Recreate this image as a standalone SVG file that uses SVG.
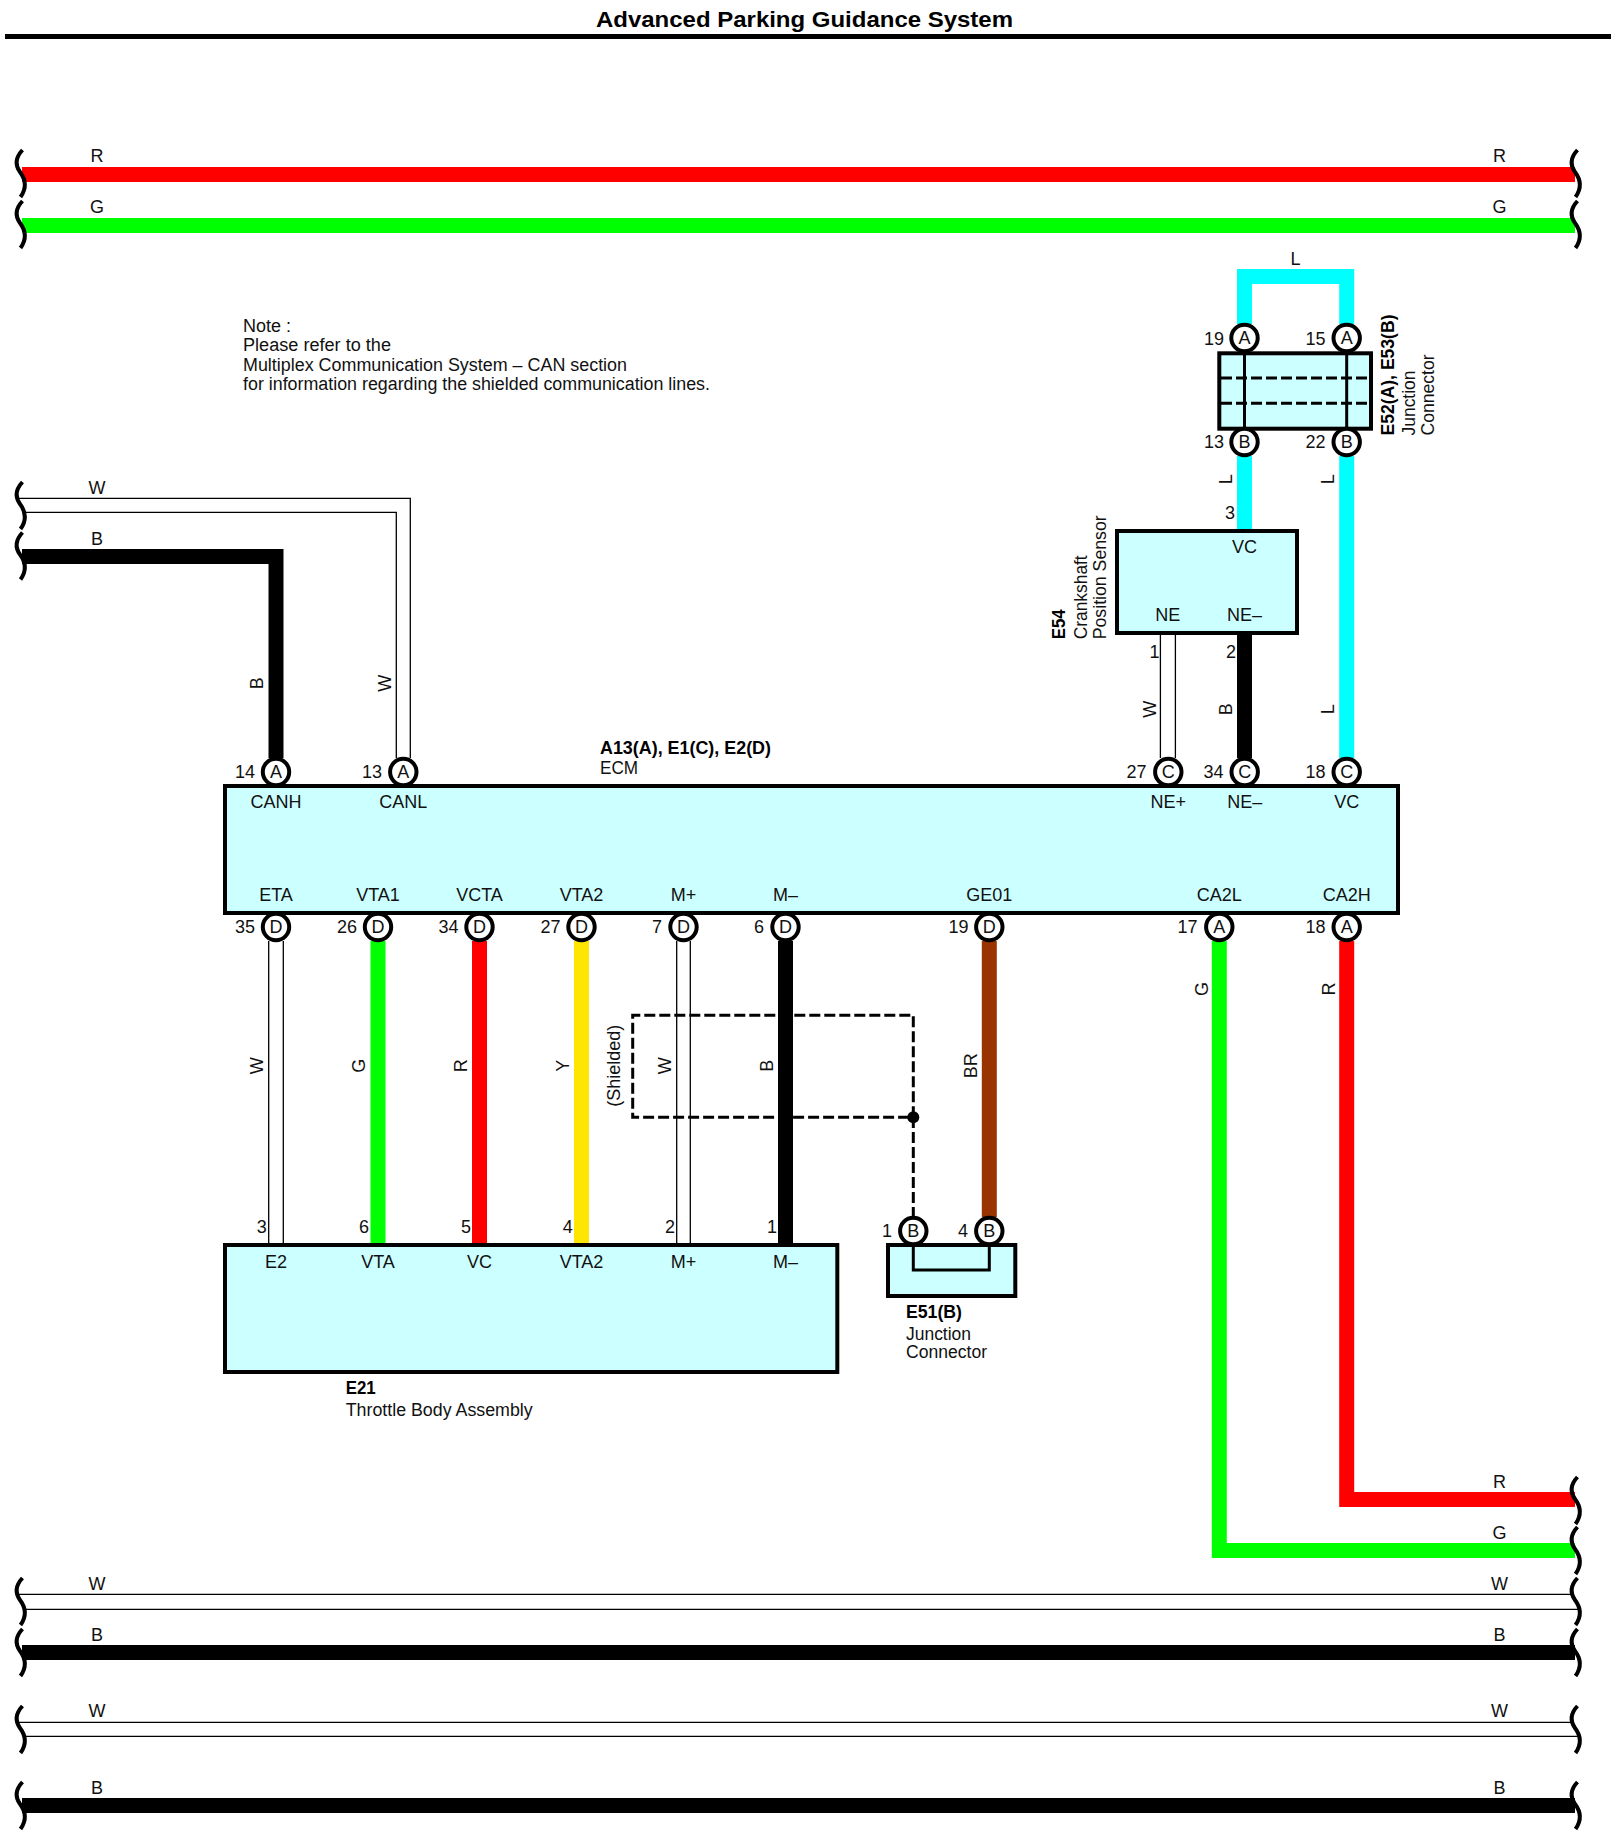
<svg xmlns="http://www.w3.org/2000/svg" width="1611" height="1848" viewBox="0 0 1611 1848">
<style>
text{font-family:"Liberation Sans",Arial,sans-serif;font-size:18px;fill:#111}
.m{text-anchor:middle}
.e{text-anchor:end;font-size:18px}
.b{font-weight:bold;fill:#000}
.box{fill:#ccffff;stroke:#000;stroke-width:4;stroke-linejoin:miter}
.in{fill:none;stroke:#000;stroke-width:3}
.pin{fill:#fff;stroke:#000;stroke-width:4}
.w{fill:none;stroke-width:15;stroke-linejoin:miter}
.ww{fill:none;stroke:#000;stroke-width:1.3}
.dash{fill:none;stroke:#000;stroke-width:3;stroke-dasharray:11 4}
.sq{fill:none;stroke:#000;stroke-width:4}
</style>
<defs>
<path id="sq" class="sq" d="M22.5 0C15 8 15 15 20 22C26 30 27 38 20.5 47"/>
</defs>
<g id="header">
<rect x="5" y="34" width="1606" height="5" fill="#000"/>
<text class="b" x="596" y="27" style="font-size:22px" textLength="417" lengthAdjust="spacingAndGlyphs">Advanced Parking Guidance System</text>
</g>
<g id="note">
<text x="243" y="332" textLength="48" lengthAdjust="spacingAndGlyphs">Note :</text>
<text x="243" y="351" textLength="148" lengthAdjust="spacingAndGlyphs">Please refer to the</text>
<text x="243" y="371" textLength="384" lengthAdjust="spacingAndGlyphs">Multiplex Communication System – CAN section</text>
<text x="243" y="390" textLength="467" lengthAdjust="spacingAndGlyphs">for information regarding the shielded communication lines.</text>
</g>
<g id="connectors">
<path class="w" stroke="#ff0000" d="M22 174.500H1575"/>
<path class="w" stroke="#00ff00" d="M22 225.500H1575"/>
<path class="ww" d="M18 498.300H410.300V758M26 512.300H396.300V758"/>
<path class="w" stroke="#000" d="M22 556.500H276V758"/>
<path class="w" stroke="#00ffff" d="M1244.500 324V276.500H1346.700V324"/>
<path class="w" stroke="#00ffff" d="M1244.500 456V532"/>
<path class="w" stroke="#00ffff" d="M1346.700 456V758"/>
<path class="w" stroke="#000" d="M1244.500 633V758"/>
<path class="ww" d="M1160.400 633V758M1175.400 633V758"/>
<path class="ww" d="M268.700 941V1245M283.300 941V1245"/>
<path class="w" stroke="#00ff00" d="M378 941V1245"/>
<path class="w" stroke="#ff0000" d="M479.500 941V1245"/>
<path class="w" stroke="#ffe600" d="M581.500 941V1245"/>
<path class="ww" d="M676.700 941V1245M690.300 941V1245"/>
<path class="dash" d="M913.300 1117.300V1015.300H632.700V1117.300H913.300V1217"/>
<circle cx="913.300" cy="1117.300" r="6"/>
<path class="w" stroke="#000" d="M785.500 941V1245"/>
<path class="w" stroke="#993300" d="M989.300 941V1217"/>
<path class="w" stroke="#00ff00" d="M1219.300 941V1550.500H1575"/>
<path class="w" stroke="#ff0000" d="M1346.700 941V1499.500H1575"/>
<path class="ww" d="M17 1594.300H1571M25 1609.300H1579"/>
<path class="w" stroke="#000" d="M22 1652.500H1575"/>
<path class="ww" d="M17 1722.300H1571M25 1736.300H1579"/>
<path class="w" stroke="#000" d="M22 1805.500H1575"/>
<use href="#sq" x="0" y="150"/><use href="#sq" x="0" y="201"/>
<use href="#sq" x="1555" y="150"/><use href="#sq" x="1555" y="201"/>
<use href="#sq" x="0" y="482"/><use href="#sq" x="0" y="532.500"/>
<use href="#sq" x="1555" y="1477"/><use href="#sq" x="1555" y="1527"/>
<use href="#sq" x="0" y="1578"/><use href="#sq" x="1555" y="1578"/>
<use href="#sq" x="0" y="1629"/><use href="#sq" x="1555" y="1629"/>
<use href="#sq" x="0" y="1706"/><use href="#sq" x="1555" y="1706"/>
<use href="#sq" x="0" y="1782"/><use href="#sq" x="1555" y="1782"/>
<g id="wire-labels">
<text class="m" x="97" y="162">R</text><text class="m" x="97" y="213">G</text>
<text class="m" x="1499.500" y="162">R</text><text class="m" x="1499.500" y="213">G</text>
<text class="m" x="97" y="493.500">W</text><text class="m" x="97" y="544.500">B</text>
<text class="m" x="1295.500" y="265">L</text>
<text class="m" x="1499.500" y="1488">R</text><text class="m" x="1499.500" y="1539">G</text>
<text class="m" x="97" y="1590">W</text><text class="m" x="1499.500" y="1590">W</text>
<text class="m" x="97" y="1641">B</text><text class="m" x="1499.500" y="1641">B</text>
<text class="m" x="97" y="1717">W</text><text class="m" x="1499.500" y="1717">W</text>
<text class="m" x="97" y="1794">B</text><text class="m" x="1499.500" y="1794">B</text>
<text class="m" x="263" y="683.300" transform="rotate(-90 263 683.300)">B</text>
<text class="m" x="391" y="683.300" transform="rotate(-90 391 683.300)">W</text>
<text class="m" x="1231.700" y="479.300" transform="rotate(-90 1231.700 479.300)">L</text>
<text class="m" x="1334" y="479.300" transform="rotate(-90 1334 479.300)">L</text>
<text class="m" x="1156" y="709.300" transform="rotate(-90 1156 709.300)">W</text>
<text class="m" x="1232" y="709.300" transform="rotate(-90 1232 709.300)">B</text>
<text class="m" x="1334" y="709.300" transform="rotate(-90 1334 709.300)">L</text>
<text class="m" x="263" y="1065.700" transform="rotate(-90 263 1065.700)">W</text>
<text class="m" x="365.500" y="1065.700" transform="rotate(-90 365.500 1065.700)">G</text>
<text class="m" x="467.500" y="1065.700" transform="rotate(-90 467.500 1065.700)">R</text>
<text class="m" x="569" y="1065.700" transform="rotate(-90 569 1065.700)">Y</text>
<text class="m" x="620" y="1065.700" transform="rotate(-90 620 1065.700)">(Shielded)</text>
<text class="m" x="671" y="1065.700" transform="rotate(-90 671 1065.700)">W</text>
<text class="m" x="773" y="1065.700" transform="rotate(-90 773 1065.700)">B</text>
<text class="m" x="977" y="1065.700" transform="rotate(-90 977 1065.700)">BR</text>
<text class="m" x="1208" y="989" transform="rotate(-90 1208 989)">G</text>
<text class="m" x="1335" y="989" transform="rotate(-90 1335 989)">R</text>
</g>
</g>
<g id="ecm">
<rect class="box" x="225" y="786" width="1173" height="127"/>
<circle class="pin" cx="276" cy="772" r="13.200"/><text class="m" x="276" y="778">A</text><text class="e" x="255" y="778">14</text><text class="m" x="276" y="807.800">CANH</text>
<circle class="pin" cx="403.300" cy="772" r="13.200"/><text class="m" x="403.300" y="778">A</text><text class="e" x="382" y="778">13</text><text class="m" x="403.300" y="807.800">CANL</text>
<circle class="pin" cx="1168.300" cy="772" r="13.200"/><text class="m" x="1168.300" y="778">C</text><text class="e" x="1146.500" y="777.500">27</text><text class="m" x="1168.300" y="807.800">NE+</text>
<circle class="pin" cx="1244.700" cy="772" r="13.200"/><text class="m" x="1244.700" y="778">C</text><text class="e" x="1223.500" y="777.500">34</text><text class="m" x="1244.700" y="807.800">NE–</text>
<circle class="pin" cx="1346.700" cy="772" r="13.200"/><text class="m" x="1346.700" y="778">C</text><text class="e" x="1325.500" y="777.500">18</text><text class="m" x="1346.700" y="807.800">VC</text>
<circle class="pin" cx="276" cy="927" r="13.200"/><text class="m" x="276" y="933">D</text><text class="e" x="255" y="932.500">35</text><text class="m" x="276" y="900.800">ETA</text>
<circle class="pin" cx="378" cy="927" r="13.200"/><text class="m" x="378" y="933">D</text><text class="e" x="357" y="932.500">26</text><text class="m" x="378" y="900.800">VTA1</text>
<circle class="pin" cx="479.500" cy="927" r="13.200"/><text class="m" x="479.500" y="933">D</text><text class="e" x="458.500" y="932.500">34</text><text class="m" x="479.500" y="900.800">VCTA</text>
<circle class="pin" cx="581.500" cy="927" r="13.200"/><text class="m" x="581.500" y="933">D</text><text class="e" x="560.500" y="932.500">27</text><text class="m" x="581.500" y="900.800">VTA2</text>
<circle class="pin" cx="683.500" cy="927" r="13.200"/><text class="m" x="683.500" y="933">D</text><text class="e" x="662" y="932.500">7</text><text class="m" x="683.500" y="900.800">M+</text>
<circle class="pin" cx="785.500" cy="927" r="13.200"/><text class="m" x="785.500" y="933">D</text><text class="e" x="764" y="932.500">6</text><text class="m" x="785.500" y="900.800">M–</text>
<circle class="pin" cx="989.300" cy="927" r="13.200"/><text class="m" x="989.300" y="933">D</text><text class="e" x="968.500" y="932.500">19</text><text class="m" x="989.300" y="900.800">GE01</text>
<circle class="pin" cx="1219.300" cy="927" r="13.200"/><text class="m" x="1219.300" y="933">A</text><text class="e" x="1197.500" y="932.500">17</text><text class="m" x="1219.300" y="900.800">CA2L</text>
<circle class="pin" cx="1346.700" cy="927" r="13.200"/><text class="m" x="1346.700" y="933">A</text><text class="e" x="1325.500" y="932.500">18</text><text class="m" x="1346.700" y="900.800">CA2H</text>
<text class="b" x="600" y="753.500" textLength="171" lengthAdjust="spacingAndGlyphs">A13(A), E1(C), E2(D)</text>
<text x="600" y="774" textLength="38" lengthAdjust="spacingAndGlyphs">ECM</text>
</g>
<g id="throttle">
<rect class="box" x="225" y="1245" width="612.300" height="127"/>
<text class="m" x="276" y="1267.800">E2</text><text class="e" x="266.700" y="1233">3</text>
<text class="m" x="378" y="1267.800">VTA</text><text class="e" x="369" y="1233">6</text>
<text class="m" x="479.500" y="1267.800">VC</text><text class="e" x="471" y="1233">5</text>
<text class="m" x="581.500" y="1267.800">VTA2</text><text class="e" x="572.700" y="1233">4</text>
<text class="m" x="683.500" y="1267.800">M+</text><text class="e" x="675" y="1233">2</text>
<text class="m" x="785.500" y="1267.800">M–</text><text class="e" x="777" y="1233">1</text>
<text class="b" x="345.700" y="1394" textLength="30" lengthAdjust="spacingAndGlyphs">E21</text>
<text x="345.700" y="1416" textLength="187" lengthAdjust="spacingAndGlyphs">Throttle Body Assembly</text>
</g>
<g id="e51">
<rect class="box" x="888" y="1245" width="127.300" height="51"/>
<path class="in" d="M913.300 1245V1270H989.300V1245"/>
<circle class="pin" cx="913.300" cy="1231" r="13.200"/><text class="m" x="913.300" y="1237">B</text><text class="e" x="892" y="1237">1</text>
<circle class="pin" cx="989.300" cy="1231" r="13.200"/><text class="m" x="989.300" y="1237">B</text><text class="e" x="968" y="1237">4</text>
<text class="b" x="906" y="1318.300" textLength="56" lengthAdjust="spacingAndGlyphs">E51(B)</text>
<text x="906" y="1340" textLength="65" lengthAdjust="spacingAndGlyphs">Junction</text>
<text x="906" y="1358.300" textLength="81" lengthAdjust="spacingAndGlyphs">Connector</text>
</g>
<g id="e52-e53">
<rect class="box" x="1219.300" y="353.300" width="151.700" height="75.400"/>
<path class="dash" d="M1221 378H1369M1221 403.300H1369"/>
<path class="in" d="M1244.500 353V429M1346.700 353V429"/>
<circle class="pin" cx="1244.500" cy="338" r="13.200"/><text class="m" x="1244.500" y="344">A</text><text class="e" x="1224" y="344.500">19</text>
<circle class="pin" cx="1346.700" cy="338" r="13.200"/><text class="m" x="1346.700" y="344">A</text><text class="e" x="1325.500" y="344.500">15</text>
<circle class="pin" cx="1244.500" cy="442" r="13.200"/><text class="m" x="1244.500" y="448">B</text><text class="e" x="1224" y="448">13</text>
<circle class="pin" cx="1346.700" cy="442" r="13.200"/><text class="m" x="1346.700" y="448">B</text><text class="e" x="1325.500" y="448">22</text>
<text class="b" x="1394" y="435.500" transform="rotate(-90 1394 435.500)" textLength="121" lengthAdjust="spacingAndGlyphs">E52(A), E53(B)</text>
<text x="1414.500" y="435.500" transform="rotate(-90 1414.500 435.500)" textLength="65" lengthAdjust="spacingAndGlyphs">Junction</text>
<text x="1434" y="435.500" transform="rotate(-90 1434 435.500)" textLength="81" lengthAdjust="spacingAndGlyphs">Connector</text>
</g>
<g id="e54">
<rect class="box" x="1117" y="531" width="180" height="102"/>
<text class="m" x="1244.500" y="553">VC</text><text class="e" x="1235" y="519">3</text>
<text class="m" x="1167.800" y="621">NE</text><text class="e" x="1159.500" y="658">1</text>
<text class="m" x="1244.500" y="621">NE–</text><text class="e" x="1236" y="658">2</text>
<text class="b" x="1065.500" y="639.300" transform="rotate(-90 1065.500 639.300)" textLength="30" lengthAdjust="spacingAndGlyphs">E54</text>
<text x="1087" y="639.300" transform="rotate(-90 1087 639.300)" textLength="84" lengthAdjust="spacingAndGlyphs">Crankshaft</text>
<text x="1106" y="639.300" transform="rotate(-90 1106 639.300)" textLength="124" lengthAdjust="spacingAndGlyphs">Position Sensor</text>
</g>
</svg>
